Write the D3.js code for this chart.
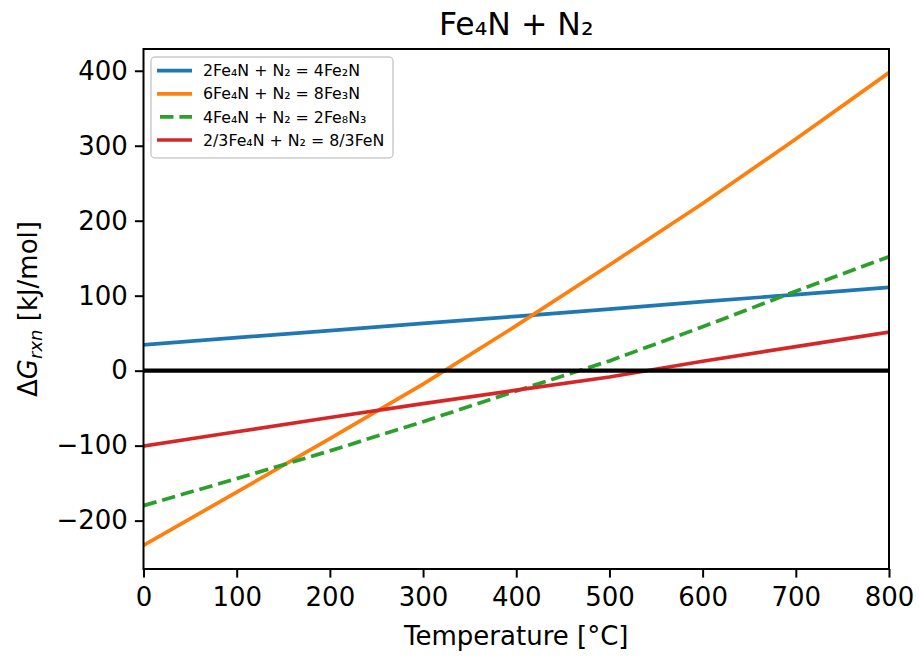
<!DOCTYPE html>
<html>
<head>
<meta charset="utf-8">
<script src="https://cdn.jsdelivr.net/npm/d3@7"></script>
<style>
  html, body { margin: 0; padding: 0; background: #fff; }
  svg { display: block; font-family: "DejaVu Sans", sans-serif; }
</style>
</head>
<body>
<svg id="chart" width="919" height="657"></svg>
<script>
// ---- data ----
const temperatures = [0, 100, 200, 300, 400, 500, 600, 700, 800];
const seriesLabels = [
  "2Fe₄N + N₂ = 4Fe₂N",
  "6Fe₄N + N₂ = 8Fe₃N",
  "4Fe₄N + N₂ = 2Fe₈N₃",
  "2/3Fe₄N + N₂ = 8/3FeN"
];
const fe2nValues  = [34.5, 44, 53.5, 63, 72.5, 82, 92, 101.5, 111];
const fe3nValues  = [-233, -162, -90.5, -18, 60, 141, 223, 309, 397.5];
const fe8n3Values = [-180, -144, -107, -68, -27, 13, 58.5, 106, 152];
const fenValues   = [-100.5, -81.5, -62.5, -44, -26, -8.5, 12.5, 32, 51.5];
const xTicks = [0, 100, 200, 300, 400, 500, 600, 700, 800];
const yTicks = [-200, -100, 0, 100, 200, 300, 400];
const titleText = "Fe₄N + N₂";
const xLabel = "Temperature [°C]";

const seriesValues = [fe2nValues, fe3nValues, fe8n3Values, fenValues];
const colors = ["#1f77b4", "#ff7f0e", "#2ca02c", "#d62728"];
const dashes = [null, null, "13.5,5.9", null];

// ---- layout ----
const svg = d3.select("#chart");
const mLeft = 143.5, mRight = 889, mTop = 49, mBottom = 569;
const tickFont = 26, titleFont = 31.5, legendFont = 15.8;

const x = d3.scaleLinear().domain([0, 800]).range([mLeft, mRight]);
const allVals = seriesValues.flat();
const yMin = d3.min(allVals), yMax = d3.max(allVals);
const pad = (yMax - yMin) * 0.05;
const y = d3.scaleLinear().domain([yMin - pad, yMax + pad]).range([mBottom, mTop]);

svg.append("clipPath").attr("id", "clip")
  .append("rect").attr("x", mLeft).attr("y", mTop)
  .attr("width", mRight - mLeft).attr("height", mBottom - mTop);

const plot = svg.append("g").attr("clip-path", "url(#clip)");

const line = d3.line().x((d, i) => x(temperatures[i])).y(d => y(d));

seriesValues.forEach((vals, k) => {
  const p = plot.append("path")
    .datum(vals)
    .attr("d", line)
    .attr("fill", "none")
    .attr("stroke", colors[k])
    .attr("stroke-width", 3.7)
    .attr("stroke-linecap", dashes[k] ? "butt" : "square");
  if (dashes[k]) p.attr("stroke-dasharray", dashes[k]);
});

// zero line
plot.append("line")
  .attr("x1", x(0)).attr("x2", x(800))
  .attr("y1", y(0)).attr("y2", y(0))
  .attr("stroke", "#000").attr("stroke-width", 4.2);

// frame
svg.append("rect")
  .attr("x", mLeft).attr("y", mTop)
  .attr("width", mRight - mLeft).attr("height", mBottom - mTop)
  .attr("fill", "none").attr("stroke", "#000").attr("stroke-width", 2);

const fmt = d => (d < 0 ? "\u2212" + Math.abs(d) : String(d));

// x axis
const xAxis = svg.append("g")
  .attr("transform", `translate(0,${mBottom})`)
  .call(d3.axisBottom(x).tickValues(xTicks).tickFormat(fmt).tickSize(8.6).tickPadding(10));
xAxis.select(".domain").remove();
xAxis.selectAll(".tick line").attr("stroke", "#000").attr("stroke-width", 2);
xAxis.selectAll(".tick text").attr("font-size", tickFont).attr("fill", "#000")
  .attr("font-family", "DejaVu Sans");

// y axis
const yAxis = svg.append("g")
  .attr("transform", `translate(${mLeft},0)`)
  .call(d3.axisLeft(y).tickValues(yTicks).tickFormat(fmt).tickSize(8.6).tickPadding(7));
yAxis.select(".domain").remove();
yAxis.selectAll(".tick line").attr("stroke", "#000").attr("stroke-width", 2);
yAxis.selectAll(".tick text").attr("font-size", tickFont).attr("fill", "#000")
  .attr("font-family", "DejaVu Sans");

// title
svg.append("text")
  .attr("x", (mLeft + mRight) / 2).attr("y", 35)
  .attr("text-anchor", "middle")
  .attr("font-size", titleFont).attr("fill", "#000")
  .text(titleText);

// x label
svg.append("text")
  .attr("x", (mLeft + mRight) / 2).attr("y", 645)
  .attr("text-anchor", "middle")
  .attr("font-size", tickFont).attr("fill", "#000")
  .text(xLabel);

// y label
const yl = svg.append("text")
  .attr("transform", `translate(37,${(mTop + mBottom) / 2}) rotate(-90)`)
  .attr("text-anchor", "middle")
  .attr("font-size", tickFont).attr("fill", "#000");
yl.append("tspan").text("\u0394");
yl.append("tspan").attr("font-style", "italic").text("G");
yl.append("tspan").attr("font-style", "italic").attr("font-size", 18).attr("dy", 5).text("rxn");
yl.append("tspan").attr("dy", -5).text(" [kJ/mol]");

// legend
const lg = svg.append("g");
lg.append("rect")
  .attr("x", 151).attr("y", 57).attr("width", 242).attr("height", 101)
  .attr("rx", 4).attr("ry", 4)
  .attr("fill", "#fff").attr("fill-opacity", 0.8)
  .attr("stroke", "#cccccc").attr("stroke-width", 1.5);
seriesLabels.forEach((lab, k) => {
  const cy = 70.7 + k * 23.1;
  const l = lg.append("line")
    .attr("x1", 157).attr("x2", 192).attr("y1", cy).attr("y2", cy)
    .attr("stroke", colors[k]).attr("stroke-width", 3.7);
  if (dashes[k]) l.attr("stroke-dasharray", dashes[k]).attr("x1", 160);
  lg.append("text")
    .attr("x", 203).attr("y", cy + 5.6)
    .attr("font-size", legendFont).attr("fill", "#000")
    .text(lab);
});
</script>
</body>
</html>
